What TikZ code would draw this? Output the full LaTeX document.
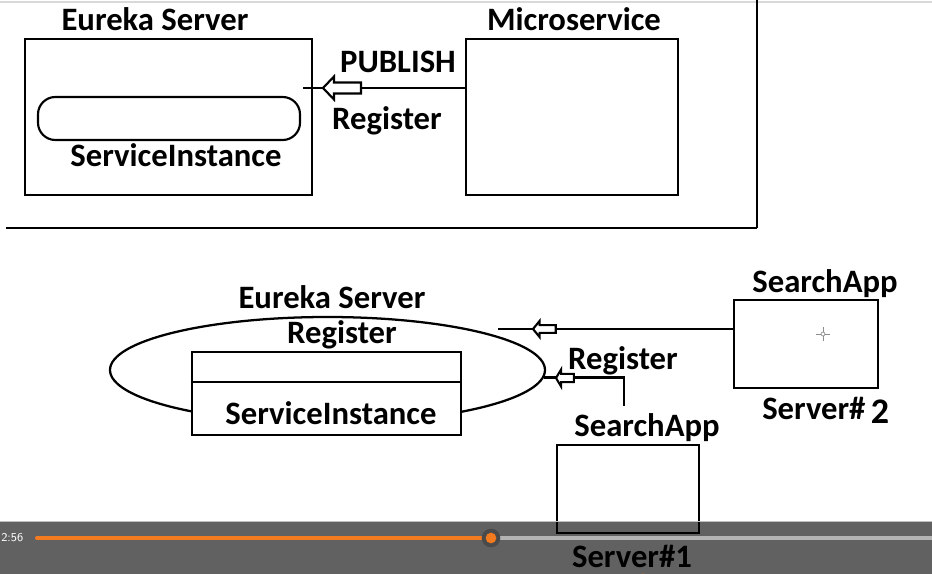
\documentclass[tikz,border=0pt]{standalone}
\usepackage{fontspec}
\setmainfont{Carlito}
\usetikzlibrary{shapes.geometric}
\definecolor{barorange}{HTML}{F47A20}
\definecolor{bargrey}{HTML}{B4B4B4}
\definecolor{knobgrey}{HTML}{4A4A4A}
\begin{document}
\begin{tikzpicture}[x=0.75pt,y=-0.75pt,
  box/.style={draw, line width=2.2pt, inner sep=0pt},
  lbl/.style={font=\bfseries\fontsize{24.5}{28}\selectfont, inner sep=0pt, anchor=center},
  conn/.style={line width=2pt},
  harrow/.pic={\draw[line width=1.6pt, fill=white, line join=miter]
     (0,0) -- (11,-11.5) -- (11,-5.5) -- (38,-5.5) -- (38,5.5) -- (11,5.5) -- (11,11.5) -- cycle;}
  ]
\useasboundingbox (0,0) rectangle (932,574);
\clip (0,0) rectangle (932,574);
\fill[white] (0,0) rectangle (932,574);
\draw[black!15, line width=0.8pt] (0,2) -- (932,2);

% ---------- top part ----------
\node[lbl] (tes) at (155,19) {Eureka Server};
\node[box, minimum width=215.25pt, minimum height=117pt] (es1) at (168.5,117) {};
\node[draw, line width=1.6pt, rounded corners=13pt, minimum width=196.5pt, minimum height=32.25pt] (si1) at (169,118.5) {};
\node[lbl] (tsi1) at (176,155) {ServiceInstance};
\node[lbl] (tms) at (574,19) {Microservice};
\node[box, minimum width=159pt, minimum height=117pt] (ms) at (572,117) {};
\node[lbl] (tpub) at (398,62) {PUBLISH};
\node[lbl] (treg1) at (387,121) {Register};
\coordinate (p1) at (303,88);
\draw[conn] (ms.west |- p1) -- (p1);
\pic at (323,88) {harrow};

\draw[line width=2.2pt] (757,0) -- (757,228);
\draw[line width=2.2pt] (6,228) -- (757,228);

% ---------- bottom part ----------
\node[draw, ellipse, line width=1.7pt, minimum width=326.25pt, minimum height=79.5pt, inner sep=0pt] (el) at (327.5,370) {};
\node[lbl] (tes2) at (332,297) {Eureka Server};
\node[lbl] (treg2) at (342,335) {Register};
\node[box, fill=white, minimum width=201.75pt, minimum height=62.25pt] (sr) at (326.5,393.5) {};
\draw[line width=2.2pt] (sr.west |- 0,382) -- (sr.east |- 0,382);
\node[lbl] (tsi2) at (331,413) {ServiceInstance};

\node[lbl] (tsa2) at (825,284) {SearchApp};
\node[box, minimum width=108pt, minimum height=66pt] (sa2) at (806,344) {};
\node[lbl, anchor=base west] (tsv2) at (762,419) {Server\#\hspace{4pt}\raisebox{-3pt}{\fontsize{27}{30}\selectfont 2}};
\draw[black!45, line width=0.6pt] (816,334) -- (830,334) (823,327) -- (823,341);
\draw[black!45, fill=white, line width=0.5pt] (823,334) circle (1.5pt);

\coordinate (p2) at (498,329);
\draw[conn] (sa2.west |- p2) -- (p2);
\pic[xscale=0.6, yscale=0.7] at (533,329) {harrow};

\node[lbl] (treg3) at (623,361) {Register};
\coordinate (p3) at (624,406);
\draw[conn] (p3) |- (el.-2);
\pic[xscale=0.47, yscale=0.75] at (556,378) {harrow};

\node[lbl] (tsa1) at (647,428) {SearchApp};
\node[box, minimum width=106.5pt, minimum height=66pt] (sa1) at (628,489) {};
\node[lbl] (tsv1) at (632,556) {Server\#1};

% ---------- video player bar ----------
\fill[black, opacity=0.62] (0,521) rectangle (932,574);
\draw[black!25, line width=0.6pt] (0,521.5) -- (932,521.5);
\draw[barorange, line width=3pt, line cap=round] (37,538) -- (491,538);
\draw[bargrey, line width=3pt] (491,538) -- (932,538);
\fill[knobgrey] (491,538) circle (7pt);
\fill[barorange] (491,538) circle (4pt);
\fill[barorange] (643,583) circle (7pt);
\node[font=\sffamily\fontsize{9}{10}\selectfont, text=white, inner sep=0pt, anchor=west] (time) at (1,538) {2:56};
\end{tikzpicture}
\end{document}
